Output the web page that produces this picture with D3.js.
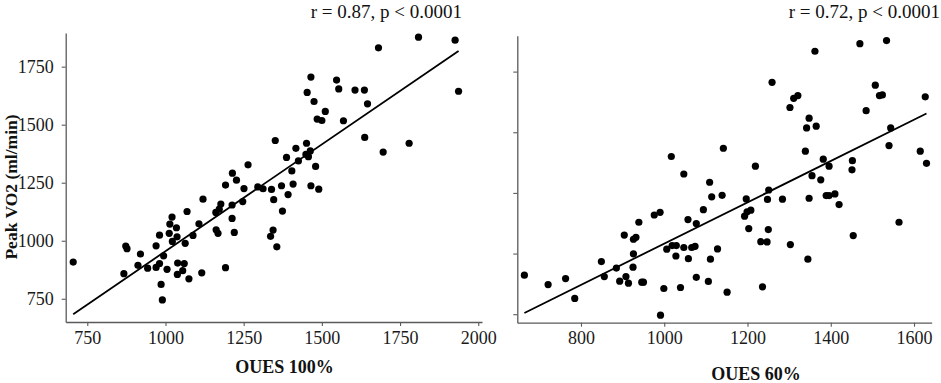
<!DOCTYPE html>
<html>
<head>
<meta charset="utf-8">
<script src="https://cdn.jsdelivr.net/npm/d3@7"></script>
<style>
  body { margin: 0; background: #ffffff; }
  svg { display: block; }
</style>
</head>
<body>
<div id="chart"></div>
<script>
// OUES 100% vs peak VO2
const oues100 = [705, 867, 873, 877, 920, 912, 943, 970, 981, 970, 981, 994, 986, 990, 1005, 1012, 1014, 1021, 1022, 1035,
  1037, 1039, 1038, 1055, 1060, 1063, 1069, 1075, 1088, 1107, 1116, 1120, 1161, 1162, 1168, 1172, 1177, 1192, 1192, 1213,
  1213, 1214, 1220, 1227, 1247, 1251, 1264, 1295, 1312, 1336, 1339, 1344, 1346, 1351, 1356, 1371, 1374, 1387, 1392, 1404,
  1408, 1417, 1425, 1449, 1451, 1457, 1463, 1465, 1453, 1465, 1475, 1480, 1485, 1490, 1500, 1511, 1547, 1554, 1569, 1606,
  1636, 1637, 1646, 1681, 1696, 1779, 1809, 1926, 1937]
const vo2Left = [908, 858, 977, 966, 943, 894, 882, 978, 1024, 885, 902, 935, 812, 745, 877, 1032, 1072, 1102, 997, 1056,
  1017, 904, 855, 871, 902, 989, 1126, 836, 1023, 1073, 862, 1179, 1122, 1047, 1032, 1136, 1158, 884, 1240, 1096,
  1154, 1291, 1036, 1261, 1169, 1225, 1327, 1232, 1224, 1019, 1221, 1046, 1177, 1432, 974, 1237, 1128, 1359, 1199, 1301,
  1244, 1398, 1344, 1372, 1420, 1362, 1387, 1237, 1639, 1705, 1600, 1320, 1524, 1222, 1518, 1557, 1692, 1654, 1517, 1649,
  1649, 1445, 1590, 1831, 1382, 1420, 1877, 1864, 1644]

// OUES 60% vs peak VO2
const oues60 = [664, 721, 763, 785, 849, 856, 885, 893, 904, 908, 914, 926, 932, 926, 925, 939, 946, 950, 976, 990,
  991, 999, 1006, 1017, 1019, 1029, 1028, 1039, 1047, 1047, 1057, 1058, 1066, 1074, 1077, 1077, 1094, 1106, 1109, 1111,
  1114, 1128, 1139, 1142, 1151, 1193, 1197, 1199, 1208, 1203, 1219, 1232, 1247, 1236, 1248, 1251, 1250, 1259, 1284, 1302,
  1303, 1311, 1321, 1339, 1342, 1345, 1348, 1348, 1355, 1362, 1365, 1376, 1382, 1389, 1396, 1396, 1410, 1420, 1452, 1451,
  1454, 1470, 1485, 1507, 1517, 1524, 1534, 1544, 1540, 1564, 1615, 1627, 1630]
const vo2Right = [911, 872, 897, 815, 967, 905, 940, 886, 1076, 905, 878, 1059, 1067, 999, 944, 1129, 882, 882, 1159, 1170,
  746, 856, 1018, 1400, 1033, 1033, 990, 860, 1328, 1025, 1140, 979, 1025, 1030, 1124, 902, 1181, 885, 1294, 977,
  1234, 1019, 1240, 1434, 841, 1154, 1225, 1172, 1179, 1103, 1360, 1049, 1048, 863, 1223, 1262, 1099, 1706, 1224, 1602,
  1037, 1640, 1651, 1422, 1518, 977, 1558, 1228, 1321, 1834, 1525, 1304, 1389, 1239, 1239, 1360, 1246, 1202, 1383, 1345,
  1074, 1865, 1589, 1694, 1651, 1654, 1878, 1518, 1445, 1129, 1422, 1646, 1372]

// fitted lines (slope, intercept) and stats text
const fitLeft = [0.920, 35]
const fitRight = [0.851, 190]
const statLeft = "r = 0.87, p < 0.0001"
const statRight = "r = 0.72, p < 0.0001"

// ticks and axis limits
const ticksX100 = [750, 1000, 1250, 1500, 1750, 2000]
const ticksX60 = [800, 1000, 1200, 1400, 1600]
const ticksVO2 = [750, 1000, 1250, 1500, 1750]
const limX100 = [681, 2012]
const limX60 = [647, 1642.5]
const limYLeft = [650, 1895]
const limYRight = [715, 1898]

const W = 941, H = 383
const font = "'Liberation Serif', 'Times New Roman', serif"

let svg = d3.select("#chart")
            .append("svg")
            .attr("width", W)
            .attr("height", H)
            .style("font-family", font)

function drawPanel(p) 
{
  let xScale = d3.scaleLinear(p.xLim, [p.left, p.right])
  let yScale = d3.scaleLinear(p.yLim, [p.bottom, p.top])

  let g = svg.append("g")

  // x-axis
  let xAxis = d3.axisBottom(xScale)
                .tickValues(p.xTicks)
                .tickFormat(d3.format("d"))
                .tickSize(4)
                .tickSizeOuter(0)
                .tickPadding(5)
  let gx = g.append("g")
            .attr("transform", `translate(0, ${p.bottom})`)
            .call(xAxis)

  // y-axis
  let yAxis = d3.axisLeft(yScale)
                .tickValues(ticksVO2)
                .tickFormat(p.yLabels ? d3.format("d") : () => "")
                .tickSize(4)
                .tickSizeOuter(0)
                .tickPadding(8)
  let gy = g.append("g")
            .attr("transform", `translate(${p.left}, 0)`)
            .call(yAxis)

  for (let a of [gx, gy]) 
  {
    a.select(".domain").attr("stroke", "#5a5a5a").attr("stroke-width", 1.3)
    a.selectAll(".tick line").attr("stroke", "#5a5a5a").attr("stroke-width", 1.1)
    a.selectAll(".tick text")
     .style("font-family", font)
     .style("font-size", "18px")
     .attr("fill", "#1a1a1a")
  }
  gy.selectAll(".tick text").attr("dy", "0.34em")

  // points
  g.selectAll("circle")
   .data(p.xs.map((x, i) => ({ x: x, y: p.ys[i] })))
   .enter()
   .append("circle")
   .attr("cx", d => xScale(d.x))
   .attr("cy", d => yScale(d.y))
   .attr("r", 3.6)
   .attr("fill", "#000")

  // regression line over the data range
  let ext = d3.extent(p.xs)
  let dMaker = d3.line()
                 .x(d => xScale(d))
                 .y(d => yScale(p.fit[0] * d + p.fit[1]))
  g.append("path")
   .datum(ext)
   .attr("d", dMaker)
   .attr("stroke", "#000")
   .attr("stroke-width", 1.8)
   .attr("fill", "none")

  // stat text
  g.append("text")
   .attr("x", p.statX)
   .attr("y", 17.5)
   .attr("text-anchor", "end")
   .style("font-size", "19px")
   .attr("fill", "#111")
   .text(p.stat)

  // x title
  g.append("text")
   .attr("x", p.titleX)
   .attr("y", p.titleY)
   .attr("text-anchor", "middle")
   .style("font-size", "18px")
   .style("font-weight", "bold")
   .attr("fill", "#111")
   .text(p.title)
}

drawPanel({
  xs: oues100, ys: vo2Left, fit: fitLeft,
  xLim: limX100, yLim: limYLeft, xTicks: ticksX100, yLabels: true,
  left: 65.7, right: 482, top: 33, bottom: 322,
  stat: statLeft, statX: 462,
  title: "OUES 100%", titleX: 284.5, titleY: 373
})

drawPanel({
  xs: oues60, ys: vo2Right, fit: fitRight,
  xLim: limX60, yLim: limYRight, xTicks: ticksX60, yLabels: false,
  left: 517.3, right: 931.7, top: 35.7, bottom: 322.7,
  stat: statRight, statX: 940,
  title: "OUES 60%", titleX: 756, titleY: 380
})

// y title (shared)
svg.append("text")
   .attr("transform", "translate(17, 187) rotate(-90)")
   .attr("text-anchor", "middle")
   .style("font-size", "17.5px")
   .style("font-weight", "bold")
   .attr("fill", "#111")
   .text("Peak VO2 (ml/min)")
</script>
</body>
</html>
